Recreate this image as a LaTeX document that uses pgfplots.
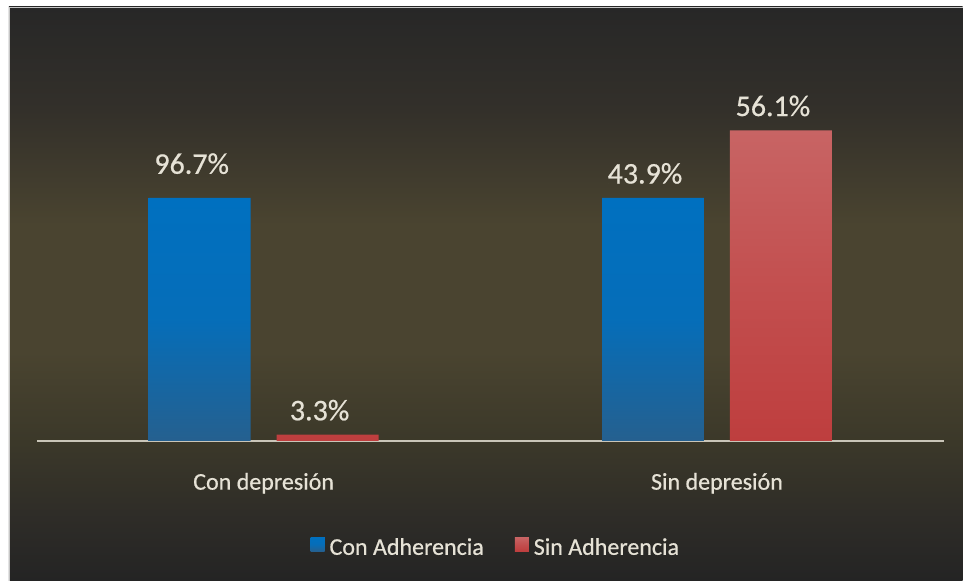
\documentclass[border=0pt]{standalone}
\usepackage{pgfplots}
\pgfplotsset{compat=1.18}
\usepackage{fontspec}
\setmainfont{Carlito}[FakeBold=0.6, BoldFont=Carlito]
\definecolor{txt}{HTML}{E6E2D6}
\definecolor{axisc}{HTML}{C9C5B8}
\definecolor{bgtop}{HTML}{272727}
\definecolor{bgup}{HTML}{33302A}
\definecolor{bgmid}{HTML}{4A4430}
\definecolor{bglow}{HTML}{3B3829}
\definecolor{bgunder}{HTML}{2F2D28}
\definecolor{bgbot}{HTML}{242424}
\definecolor{bluetop}{HTML}{0070C0}
\definecolor{bluebot}{HTML}{25608F}
\definecolor{redtop}{HTML}{C86464}
\definecolor{redbot}{HTML}{BE3E3E}
\definecolor{blueleg}{HTML}{1F6FB5}
\definecolor{redleg}{HTML}{D04848}
\pgfdeclareverticalshading{panelbg}{100bp}{color(0bp)=(bgbot); color(25bp)=(bgbot); color(31bp)=(bgunder); color(37bp)=(bglow); color(45bp)=(bgmid); color(56bp)=(bgmid); color(66bp)=(bgup); color(75bp)=(bgtop); color(100bp)=(bgtop)}
\begin{document}
\begin{tikzpicture}[x=1pt,y=1pt]
\fill[white] (0,0) rectangle (963,581);
\shade[shading=panelbg] (9,0) rectangle (963,574);
\draw[gray!45, line width=0.8pt] (9,0) -- (9,574) -- (963,574);
\begin{axis}[
  at={(37pt,140pt)}, anchor=south west,
  scale only axis, width=907pt, height=431.7pt,
  xmin=-0.5, xmax=1.5, ymin=0, ymax=78,
  axis x line*=bottom, axis y line=none,
  x axis line style={color=axisc, line width=1.5pt, -},
  ytick=\empty, xtick={0,1}, xticklabels={Con depresión, Sin depresión},
  major tick length=0pt,
  xticklabel style={font=\fontsize{24}{28}\selectfont\bfseries, text=txt, inner sep=0pt, yshift=-32pt},
  ybar=26pt, bar width=102pt,
  point meta=explicit symbolic,
  nodes near coords,
  every node near coord/.append style={font=\fontsize{30}{36}\selectfont\bfseries, text=txt, inner sep=0pt, anchor=south, yshift=14pt, xshift=-8pt},
  legend style={at={(0.505,-0.2455)}, anchor=center, draw=none, fill=none,
    font=\fontsize{24}{28}\selectfont\bfseries, text=txt, nodes={inner sep=0pt},
    /tikz/every odd column/.append style={column sep=5pt},
    /tikz/every even column/.append style={column sep=31pt}},
  legend columns=2,
  clip=false,
]
\addplot[draw=none, top color=bluetop, bottom color=bluebot, middle color=bluetop!85!bluebot,
  legend image code/.code={\fill[blueleg] (0pt,-4pt) rectangle (14pt,10pt);}]
  coordinates {(0,43.9) [\raisebox{10pt}{96.7\%}] (1,43.9) [43.9\%]};
\addplot[draw=none, top color=redtop, bottom color=redbot, middle color=redtop!45!redbot,
  legend image code/.code={\fill[redleg] (0pt,-4pt) rectangle (14pt,10pt);}]
  coordinates {(0,1.1) [3.3\%] (1,56.1) [56.1\%]};
\legend{Con Adherencia, Sin Adherencia}
\end{axis}
\end{tikzpicture}
\end{document}
